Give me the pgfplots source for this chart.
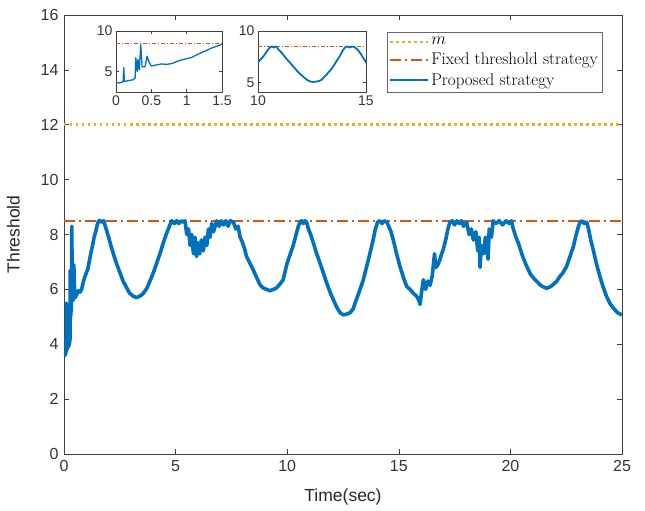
\documentclass[border=0pt]{standalone}
\usepackage{fontspec}
\usepackage{pgfplots}
\pgfplotsset{compat=1.18}
\usepackage{pgfplotstable}
\newfontfamily\arialfont{Liberation Sans}

\definecolor{mblue}{HTML}{0072BD}
\definecolor{morange}{HTML}{D95319}
\definecolor{myellow}{HTML}{EDB120}

% proposed strategy threshold
\pgfplotstableread{
t v
0.00 3.7
0.05 3.6
0.10 3.75
0.11 5.5
0.12 3.8
0.18 3.9
0.24 4.0
0.27 4.2
0.28 6.7
0.30 5.0
0.31 6.5
0.33 5.2
0.35 8.3
0.37 5.6
0.41 5.6
0.44 6.9
0.47 6.1
0.50 5.7
0.56 5.8
0.64 5.95
0.72 5.9
0.79 6.0
0.86 6.25
0.93 6.45
1.00 6.6
1.07 6.75
1.14 7.05
1.21 7.35
1.28 7.6
1.35 7.9
1.42 8.1
1.49 8.35
1.55 8.5
1.62 8.5
1.70 8.45
1.78 8.5
1.85 8.3
1.91 8.15
2.00 7.9
2.10 7.6
2.21 7.3
2.35 6.95
2.51 6.6
2.65 6.3
2.81 6.05
2.95 5.85
3.11 5.75
3.25 5.7
3.41 5.76
3.55 5.85
3.71 6.04
3.85 6.3
4.00 6.6
4.15 6.95
4.30 7.3
4.45 7.7
4.60 8.05
4.72 8.3
4.82 8.5
4.95 8.4
5.05 8.5
5.15 8.4
5.25 8.5
5.35 8.45
5.42 8.5
5.50 8.0
5.58 8.2
5.65 7.6
5.72 8.0
5.80 7.3
5.87 7.9
5.94 7.2
6.00 7.7
6.08 7.3
6.15 7.8
6.24 7.4
6.32 7.9
6.40 7.6
6.47 8.2
6.54 7.9
6.62 8.4
6.70 8.1
6.84 8.5
6.95 8.3
7.05 8.5
7.15 8.35
7.25 8.5
7.35 8.3
7.45 8.5
7.59 8.45
7.70 8.2
7.80 8.3
7.89 7.9
8.00 7.7
8.10 7.45
8.18 7.2
8.30 7.0
8.48 6.71
8.62 6.45
8.78 6.17
8.92 6.05
9.08 6.0
9.22 5.95
9.38 6.0
9.52 6.05
9.68 6.2
9.82 6.35
9.98 6.9
10.10 7.2
10.27 7.6
10.40 8.0
10.50 8.3
10.57 8.45
10.65 8.5
10.72 8.4
10.80 8.5
10.87 8.45
10.95 8.2
11.05 8.0
11.17 7.7
11.30 7.35
11.47 6.96
11.62 6.6
11.77 6.23
11.92 5.9
12.07 5.62
12.22 5.35
12.37 5.15
12.52 5.07
12.67 5.1
12.82 5.15
12.96 5.3
13.04 5.5
13.20 5.85
13.41 6.35
13.55 6.8
13.71 7.32
13.85 7.8
13.95 8.2
14.05 8.45
14.15 8.5
14.25 8.4
14.35 8.5
14.46 8.45
14.55 8.3
14.65 8.1
14.75 7.81
14.90 7.3
15.05 6.84
15.20 6.45
15.35 6.11
15.50 6.0
15.65 5.86
15.80 5.75
15.90 5.6
15.95 5.45
16.02 5.9
16.10 6.35
16.20 6.0
16.30 6.3
16.40 6.15
16.50 6.5
16.60 7.3
16.66 6.8
16.75 6.9
16.85 7.1
16.92 7.3
16.99 7.45
17.10 7.8
17.20 8.2
17.29 8.45
17.40 8.5
17.50 8.35
17.60 8.5
17.70 8.4
17.80 8.5
17.90 8.3
18.04 8.45
18.15 8.0
18.25 8.2
18.34 7.8
18.45 8.1
18.54 7.4
18.60 7.9
18.64 6.8
18.70 7.6
18.80 7.3
18.88 7.9
18.94 7.5
19.00 7.1
19.05 8.2
19.15 7.9
19.23 8.5
19.35 8.4
19.50 8.5
19.65 8.35
19.80 8.5
19.95 8.4
20.05 8.5
20.13 8.2
20.25 7.9
20.35 7.7
20.43 7.5
20.55 7.2
20.73 6.84
20.90 6.55
21.05 6.4
21.18 6.29
21.35 6.15
21.50 6.08
21.63 6.04
21.80 6.1
21.95 6.2
22.07 6.29
22.20 6.45
22.35 6.6
22.52 6.84
22.65 7.15
22.82 7.56
22.95 8.0
23.05 8.3
23.12 8.45
23.20 8.5
23.30 8.4
23.42 8.45
23.50 8.2
23.60 7.8
23.71 7.45
23.85 6.95
24.01 6.47
24.15 6.1
24.31 5.74
24.45 5.5
24.61 5.32
24.80 5.15
25.00 5.07
}\proposed

\pgfplotsset{
  every axis/.append style={
    scale only axis,
    axis line style={draw=black!75, line width=0.6pt},
    tick style={draw=black!75, line width=0.6pt},
    /pgf/number format/assume math mode=true,
  },
  mline/.style={legend image code/.code={\draw[##1, line width=2pt] (0pt,0pt) -- (38pt,0pt);}},
}

\begin{document}
\begin{tikzpicture}
\begin{axis}[
  name=main,
  at={(0pt,0pt)}, anchor=south west,
  width=558pt, height=439pt,
  xmin=0, xmax=25, ymin=0, ymax=16,
  xtick={0,5,...,25}, ytick={0,2,...,16},
  major tick length=5pt,
  tick label style={font=\arialfont\fontsize{16}{19}\selectfont, text=black!80},
  xticklabel style={yshift=-3pt},
  yticklabel style={xshift=-2pt},
  xlabel={Time(sec)}, ylabel={Threshold},
  label style={font=\arialfont\fontsize{17.5}{20}\selectfont, text=black!85},
  xlabel style={yshift=-10pt},
  ylabel style={yshift=14pt},
  legend cell align=left,
  legend style={at={(0.5789,0.9613)}, anchor=north west, draw=black!60, line width=0.5pt,
    font=\fontsize{17}{20}\selectfont, inner xsep=2pt, inner ysep=3pt, row sep=3pt},
]
\addplot[myellow, line width=2.5pt, dash pattern=on 2.5pt off 3.5pt, mline] coordinates {(0,12) (25,12)};
\addlegendentry{$m$}
\addplot[morange, line width=2.5pt, dash pattern=on 11pt off 4pt on 2pt off 4pt, mline] coordinates {(0,8.5) (25,8.5)};
\addlegendentry{Fixed threshold strategy}
\addplot[mblue, line width=3.6pt, line join=round, mline] table[x=t, y=v] {\proposed};
\addlegendentry{Proposed strategy}
\end{axis}

\begin{axis}[
  at={(52pt,362pt)}, anchor=south west,
  width=106pt, height=61pt,
  xmin=0, xmax=1.5, ymin=2.5, ymax=10,
  xtick={0,0.5,1,1.5}, ytick={5,10},
  major tick length=3pt,
  tick label style={font=\arialfont\fontsize{14}{16}\selectfont, text=black!80},
  axis background/.style={fill=white},
]
\addplot[morange, line width=0.8pt, dash pattern=on 4pt off 2pt on 1pt off 2pt] coordinates {(0,8.5) (1.5,8.5)};
\addplot[mblue, line width=1.3pt, line join=round] table[x=t, y=v] {\proposed};
\end{axis}

\begin{axis}[
  at={(194pt,362pt)}, anchor=south west,
  width=108pt, height=61pt,
  xmin=10, xmax=15, ymin=4.1, ymax=10,
  xtick={10,15}, ytick={5,10},
  major tick length=3pt,
  tick label style={font=\arialfont\fontsize{14}{16}\selectfont, text=black!80},
  axis background/.style={fill=white},
]
\addplot[morange, line width=0.8pt, dash pattern=on 4pt off 2pt on 1pt off 2pt] coordinates {(10,8.5) (15,8.5)};
\addplot[mblue, line width=1.8pt, line join=round] table[x=t, y=v] {\proposed};
\end{axis}

\path (main.south west) ++(-64pt,-57pt) rectangle ++(645pt,511pt);
\end{tikzpicture}
\end{document}
